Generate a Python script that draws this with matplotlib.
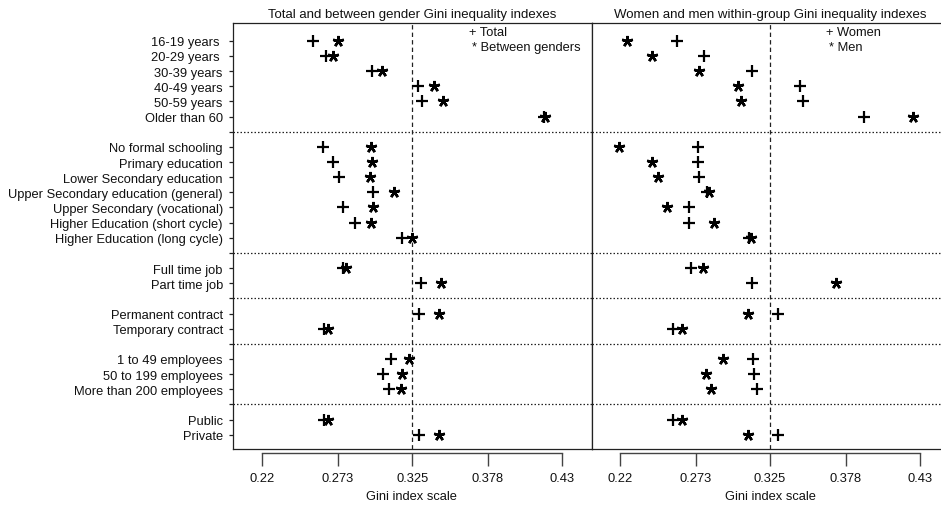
import matplotlib
matplotlib.use("Agg")
import matplotlib.pyplot as plt
from matplotlib.lines import Line2D

plt.rcParams['font.family'] = ['Liberation Sans', 'DejaVu Sans']

# ---------------- data ----------------
groups = [
    ["16-19 years ", "20-29 years ", "30-39 years", "40-49 years", "50-59 years", "Older than 60"],
    ["No formal schooling", "Primary education", "Lower Secondary education",
     "Upper Secondary education (general)", "Upper Secondary (vocational)",
     "Higher Education (short cycle)", "Higher Education (long cycle)"],
    ["Full time job", "Part time job"],
    ["Permanent contract", "Temporary contract"],
    ["1 to 49 employees", "50 to 199 employees", "More than 200 employees"],
    ["Public", "Private"],
]

total = [0.2557, 0.2646, 0.2966, 0.3292, 0.3320, 0.4172,
         0.2627, 0.2697, 0.2739, 0.2973, 0.2767, 0.2851, 0.3176,
         0.2763, 0.3309,
         0.3299, 0.2634,
         0.3101, 0.3043, 0.3087,
         0.2634, 0.3299]
between = [0.2732, 0.2697, 0.3036, 0.3402, 0.3463, 0.4176,
           0.2961, 0.2966, 0.2954, 0.3122, 0.2973, 0.2961, 0.3246,
           0.2784, 0.3449,
           0.3439, 0.2662,
           0.3229, 0.3178, 0.3169,
           0.2662, 0.3439]
women = [0.2597, 0.2788, 0.3122, 0.3460, 0.3483, 0.3910,
         0.2748, 0.2744, 0.2753, 0.2811, 0.2683, 0.2683, 0.3105,
         0.2697, 0.3126,
         0.3308, 0.2573,
         0.3133, 0.3140, 0.3157,
         0.2573, 0.3308]
men = [0.2247, 0.2422, 0.2753, 0.3024, 0.3047, 0.4249,
       0.2195, 0.2426, 0.2464, 0.2825, 0.2527, 0.2860, 0.3115,
       0.2783, 0.3710,
       0.3094, 0.2632,
       0.2919, 0.2802, 0.2835,
       0.2634, 0.3094]

xticks = [0.22, 0.273, 0.325, 0.378, 0.43]
xticklabels = ["0.22", "0.273", "0.325", "0.378", "0.43"]
ref_line = 0.325

titles = ["Total and between gender Gini inequality indexes",
          "Women and men within-group Gini inequality indexes"]
legends = [("+ Total", "* Between genders"), ("+ Women", "* Men")]
xlabel = "Gini index scale"

# ---------------- layout ----------------
labels, ypos, seps = [], [], []
pos = 0
for gi, g in enumerate(groups):
    for lab in g:
        labels.append(lab)
        ypos.append(pos)
        pos += 1
    if gi < len(groups) - 1:
        seps.append(pos)
        pos += 1

W, H = 941, 506
fig = plt.figure(figsize=(W / 100, H / 100), dpi=100)

box_top, box_bot = 24, 450
panel_w = 358.7
lefts = [233, 591.7]
xlims = [(0.1995, 0.4506), (0.2002, 0.4513)]
ylim = (26.94, -1.175)

FS = 9.3
lw_box = 0.9
TXT = '#111111'

axes = []
for i in range(2):
    ax = fig.add_axes([lefts[i] / W, 1 - box_bot / H, panel_w / W, (box_bot - box_top) / H])
    ax.set_xlim(*xlims[i])
    ax.set_ylim(*ylim)
    axes.append(ax)

    for s in ['top', 'left', 'right']:
        ax.spines[s].set_linewidth(lw_box)
        ax.spines[s].set_color('#222222')
    ax.spines['bottom'].set_position(('outward', 2.9))
    ax.spines['bottom'].set_bounds(xticks[0], xticks[-1])
    ax.spines['bottom'].set_color('#444444')
    ax.spines['bottom'].set_linewidth(1.0)
    ax.add_line(Line2D([0, 1], [0, 0], transform=ax.transAxes, color='#222222',
                       lw=lw_box, clip_on=False))

    ax.set_xticks(xticks)
    ax.set_xticklabels(xticklabels, fontsize=FS, color=TXT)
    ax.tick_params(axis='x', direction='out', length=9.4, width=1.0, color='#444444', pad=4)

    if i == 0:
        ax.set_yticks(ypos + seps)
        ax.set_yticklabels(labels + [''] * len(seps), fontsize=FS, color=TXT)
        ax.tick_params(axis='y', direction='out', length=3, width=0.9, color='#222222', pad=4.3)
    else:
        ax.set_yticks([])

    # separators and reference line
    for s in seps:
        ax.axhline(s, color='#222222', lw=0.9, ls=(0, (1.2, 1.6)))
    ax.axvline(ref_line, color='#222222', lw=0.9, ls=(0, (3.5, 2.5)))

    ax.set_xlabel(xlabel, fontsize=FS, color=TXT)
    ax.xaxis.set_label_coords(0.4985, -0.11)
    ax.xaxis.label.set_va('center')

    ax.text(0.4985, 1 + (box_top - 15) / (box_bot - box_top), titles[i], transform=ax.transAxes,
            ha='center', va='center', fontsize=9.5, color=TXT)

# markers
plus_kw = dict(marker='+', ms=8, mew=1.6, color='black', ls='none', clip_on=False)
star_kw = dict(marker=(5, 2, 0), ms=8, mew=1.8, color='black', ls='none', clip_on=False)

axes[0].plot(total, ypos, **plus_kw)
axes[0].plot(between, ypos, **star_kw)
axes[1].plot(women, ypos, **plus_kw)
axes[1].plot(men, ypos, **star_kw)

# legends (text only)
leg_x = [[(469 - 233) / panel_w, (471.7 - 233) / panel_w],
         [(826 - 591.7) / panel_w, (829 - 591.7) / panel_w]]
leg_y = [1 - (33.3 - box_top) / (box_bot - box_top), 1 - (47.7 - box_top) / (box_bot - box_top)]
for i in range(2):
    for j in range(2):
        axes[i].text(leg_x[i][j], leg_y[j], legends[i][j], transform=axes[i].transAxes,
                     ha='left', va='center', fontsize=FS, color=TXT)

fig.savefig("out.png", dpi=100)
